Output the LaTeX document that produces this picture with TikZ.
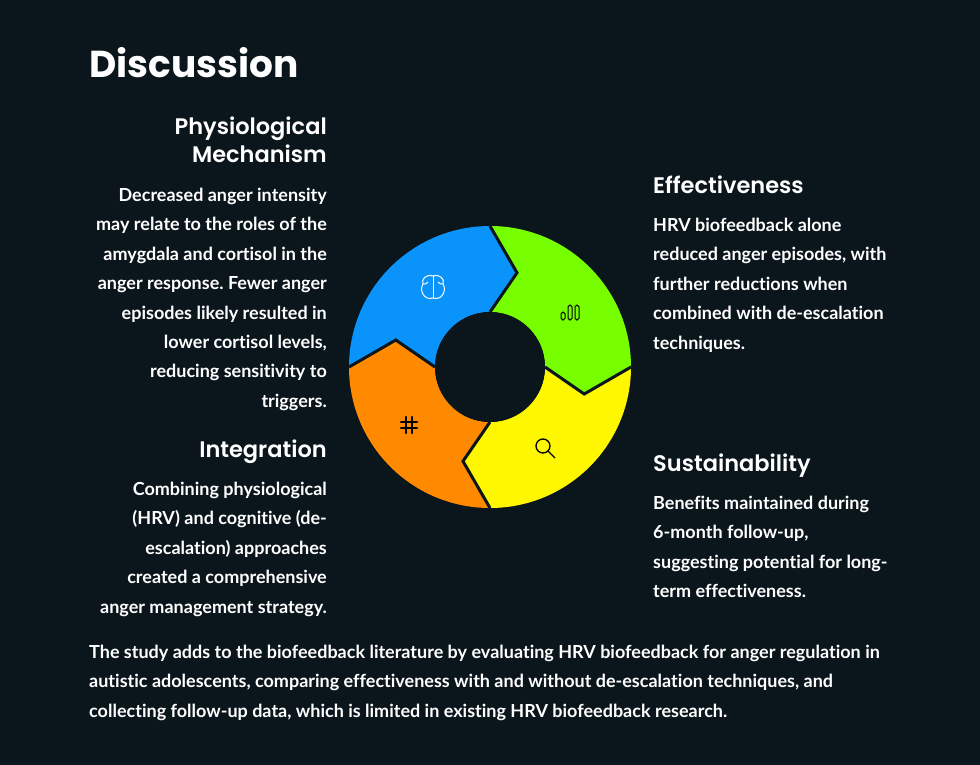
\documentclass[tikz,border=0pt]{standalone}
\usepackage{fontspec}
\setmainfont{Lato}[UprightFont=* Bold,Ligatures={NoCommon}]
\newfontfamily\headfont{Poppins}[UprightFont=* SemiBold]
\newfontfamily\titlefont{Poppins}[UprightFont=* Bold]
\definecolor{bg}{HTML}{0B151C}
\definecolor{cblue}{HTML}{0A93FA}
\definecolor{cgreen}{HTML}{77FF00}
\definecolor{cyellow}{HTML}{FFF700}
\definecolor{corange}{HTML}{FF8A00}
\tikzset{
 para/.style={text=white,inner sep=0pt,font=\frenchspacing\fontsize{18}{29.4}\selectfont},
 paraR/.style={para,align=right,anchor=north east},
 paraL/.style={para,align=left,anchor=north west},
 head/.style={text=white,inner sep=0pt,font=\headfont\fontsize{22.5}{27.5}\selectfont},
}
\def\Ro{141}\def\Ri{55}\def\Rm{98}
\newcommand{\seg}[3]{% a1 a2 color
 \fill[#3] (#1:\Ro) arc[start angle=#1,end angle=#2,radius=\Ro]
  -- ({#2-16}:\Rm) -- (#2:\Ri)
  arc[start angle=#2,end angle=#1,radius=\Ri]
  -- ({#1-16}:\Rm) -- cycle;}
\begin{document}
\begin{tikzpicture}[x=1pt,y=-1pt]
\useasboundingbox[fill=bg] (0,0) rectangle (980,765);
\node[text=white,inner sep=0pt,anchor=west,font=\titlefont\fontsize{37.5}{40}\selectfont] (title) at (89,63) {Discussion};
% ring
\begin{scope}[shift={(490,367)},y=1pt]
\seg{90}{180}{cblue}
\seg{0}{90}{cgreen}
\seg{270}{360}{cyellow}
\seg{180}{270}{corange}
\foreach \a in {0,90,180,270}
 \draw[bg,line width=3pt,line join=miter] (\a:\Ro) -- ({\a-16}:\Rm) -- (\a:\Ri);
\fill[bg] (0,0) circle (\Ri);
% brain
\begin{scope}[shift={(-57,80)},white,line width=1pt]
 \draw (0,-11) -- (0,11);
 \draw (0,11) .. controls (-7,13) and (-12,8) .. (-10,3) .. controls (-14,-3) and (-9,-14) .. (0,-11);
 \draw (0,11) .. controls (7,13) and (12,8) .. (10,3) .. controls (14,-3) and (9,-14) .. (0,-11);
 \draw (-10,3) .. controls (-7,3) .. (-5,5);
 \draw (10,3) .. controls (7,3) .. (5,5);
\end{scope}
% bars
\begin{scope}[shift={(80,55)},black,line width=1pt]
 \draw[rounded corners=1.8pt] (-9,-8) rectangle (-5,0);
 \draw[rounded corners=1.8pt] (-2,-8) rectangle (2,7);
 \draw[rounded corners=1.8pt] (5,-8) rectangle (9,7);
\end{scope}
% slack-like
\begin{scope}[shift={(-81,-58)},black,line width=2.6pt,line cap=round]
 \draw (-3,8) -- (-3,-8); \draw (3,8) -- (3,-8);
 \draw (-8,3) -- (8,3); \draw (-8,-3) -- (8,-3);
\end{scope}
% magnifier
\begin{scope}[shift={(55,-81)},black,line width=1.3pt]
 \draw (-2,2) circle (7);
 \draw (3,-3) -- (10,-10);
\end{scope}
\end{scope}
% left texts
\node[head,align=right,anchor=north east] (h1) at (327,117) {Physiological\\Mechanism};
\node[paraR] (p1) at (327,188) {Decreased anger intensity\\may relate to the roles of the\\amygdala and cortisol in the\\anger response. Fewer anger\\episodes likely resulted in\\lower cortisol levels,\\reducing sensitivity to\\triggers.};
\node[head,anchor=north east] (h2) at (327,440) {Integration};
\node[paraR] (p2) at (327,482) {Combining physiological\\(HRV) and cognitive (de-\\escalation) approaches\\created a comprehensive\\anger management strategy.};
% right texts
\node[head,anchor=north west] (h3) at (653,176) {Effectiveness};
\node[paraL] (p3) at (653,218) {HRV biofeedback alone\\reduced anger episodes, with\\further reductions when\\combined with de-escalation\\techniques.};
\node[head,anchor=north west] (h4) at (653,454) {Sustainability};
\node[paraL] (p4) at (653,496) {Benefits maintained during\\6-month follow-up,\\suggesting potential for long-\\term effectiveness.};
\node[paraL] (p5) at (89,645) {The study adds to the biofeedback literature by evaluating HRV biofeedback for anger regulation in\\autistic adolescents, comparing effectiveness with and without de-escalation techniques, and\\collecting follow-up data, which is limited in existing HRV biofeedback research.};
\end{tikzpicture}
\end{document}
